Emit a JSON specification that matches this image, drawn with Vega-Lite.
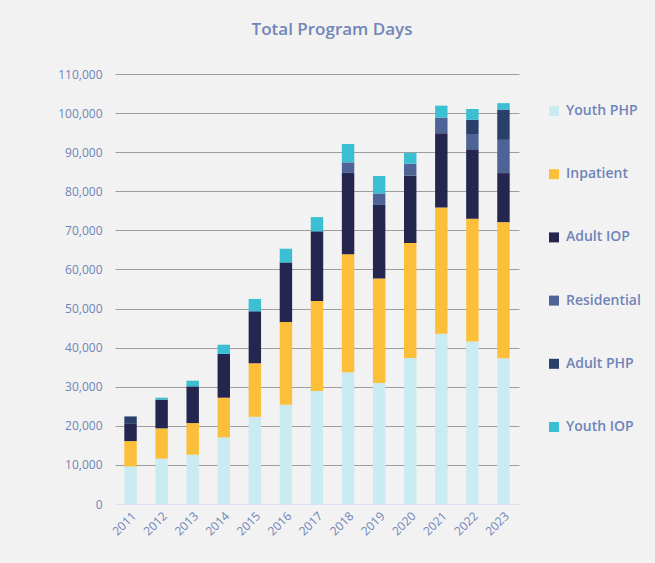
{
  "$schema": "https://vega.github.io/schema/vega-lite/v6.json",
  "autosize": "none",
  "width": 404,
  "height": 430,
  "padding": {"left": 115, "top": 74, "right": 136, "bottom": 59},
  "background": "#f2f2f2",
  "config": {
    "view": {"stroke": null},
    "font": "Open Sans"
  },
  "title": {
    "text": "Total Program Days",
    "fontSize": 17,
    "fontWeight": 600,
    "font": "Open Sans",
    "color": "#7085b8",
    "anchor": "middle",
    "dx": 15,
    "offset": 29
  },
  "data": {
    "values": [
      {"year": "2011", "program": "Youth PHP", "days": 9600, "k": 1},
      {"year": "2011", "program": "Inpatient", "days": 6500, "k": 2},
      {"year": "2011", "program": "Adult IOP", "days": 4400, "k": 3},
      {"year": "2011", "program": "Adult PHP", "days": 1900, "k": 5},
      {"year": "2012", "program": "Youth PHP", "days": 11600, "k": 1},
      {"year": "2012", "program": "Inpatient", "days": 7750, "k": 2},
      {"year": "2012", "program": "Adult IOP", "days": 7350, "k": 3},
      {"year": "2012", "program": "Youth IOP", "days": 500, "k": 6},
      {"year": "2013", "program": "Youth PHP", "days": 12600, "k": 1},
      {"year": "2013", "program": "Inpatient", "days": 8100, "k": 2},
      {"year": "2013", "program": "Adult IOP", "days": 9400, "k": 3},
      {"year": "2013", "program": "Youth IOP", "days": 1450, "k": 6},
      {"year": "2014", "program": "Youth PHP", "days": 17050, "k": 1},
      {"year": "2014", "program": "Inpatient", "days": 10150, "k": 2},
      {"year": "2014", "program": "Adult IOP", "days": 11200, "k": 3},
      {"year": "2014", "program": "Youth IOP", "days": 2350, "k": 6},
      {"year": "2015", "program": "Youth PHP", "days": 22300, "k": 1},
      {"year": "2015", "program": "Inpatient", "days": 13700, "k": 2},
      {"year": "2015", "program": "Adult IOP", "days": 13300, "k": 3},
      {"year": "2015", "program": "Youth IOP", "days": 3150, "k": 6},
      {"year": "2016", "program": "Youth PHP", "days": 25400, "k": 1},
      {"year": "2016", "program": "Inpatient", "days": 21150, "k": 2},
      {"year": "2016", "program": "Adult IOP", "days": 15250, "k": 3},
      {"year": "2016", "program": "Youth IOP", "days": 3500, "k": 6},
      {"year": "2017", "program": "Youth PHP", "days": 28900, "k": 1},
      {"year": "2017", "program": "Inpatient", "days": 23000, "k": 2},
      {"year": "2017", "program": "Adult IOP", "days": 17850, "k": 3},
      {"year": "2017", "program": "Youth IOP", "days": 3650, "k": 6},
      {"year": "2018", "program": "Youth PHP", "days": 33700, "k": 1},
      {"year": "2018", "program": "Inpatient", "days": 30200, "k": 2},
      {"year": "2018", "program": "Adult IOP", "days": 20800, "k": 3},
      {"year": "2018", "program": "Residential", "days": 2700, "k": 4},
      {"year": "2018", "program": "Youth IOP", "days": 4700, "k": 6},
      {"year": "2019", "program": "Youth PHP", "days": 30950, "k": 1},
      {"year": "2019", "program": "Inpatient", "days": 26750, "k": 2},
      {"year": "2019", "program": "Adult IOP", "days": 18800, "k": 3},
      {"year": "2019", "program": "Residential", "days": 2950, "k": 4},
      {"year": "2019", "program": "Youth IOP", "days": 4450, "k": 6},
      {"year": "2020", "program": "Youth PHP", "days": 37350, "k": 1},
      {"year": "2020", "program": "Inpatient", "days": 29400, "k": 2},
      {"year": "2020", "program": "Adult IOP", "days": 17300, "k": 3},
      {"year": "2020", "program": "Residential", "days": 3000, "k": 4},
      {"year": "2020", "program": "Youth IOP", "days": 2750, "k": 6},
      {"year": "2021", "program": "Youth PHP", "days": 43550, "k": 1},
      {"year": "2021", "program": "Inpatient", "days": 32300, "k": 2},
      {"year": "2021", "program": "Adult IOP", "days": 19000, "k": 3},
      {"year": "2021", "program": "Residential", "days": 4000, "k": 4},
      {"year": "2021", "program": "Youth IOP", "days": 3050, "k": 6},
      {"year": "2022", "program": "Youth PHP", "days": 41550, "k": 1},
      {"year": "2022", "program": "Inpatient", "days": 31450, "k": 2},
      {"year": "2022", "program": "Adult IOP", "days": 17750, "k": 3},
      {"year": "2022", "program": "Residential", "days": 3900, "k": 4},
      {"year": "2022", "program": "Adult PHP", "days": 3650, "k": 5},
      {"year": "2022", "program": "Youth IOP", "days": 2750, "k": 6},
      {"year": "2023", "program": "Youth PHP", "days": 37300, "k": 1},
      {"year": "2023", "program": "Inpatient", "days": 34800, "k": 2},
      {"year": "2023", "program": "Adult IOP", "days": 12550, "k": 3},
      {"year": "2023", "program": "Residential", "days": 8500, "k": 4},
      {"year": "2023", "program": "Adult PHP", "days": 7750, "k": 5},
      {"year": "2023", "program": "Youth IOP", "days": 1650, "k": 6}
    ]
  },
  "mark": {"type": "bar"},
  "encoding": {
    "x": {
      "field": "year",
      "type": "ordinal",
      "scale": {"paddingInner": 0.6, "paddingOuter": 0.3},
      "axis": {
        "title": null,
        "labelAngle": -45,
        "labelFontSize": 12,
        "labelColor": "#6f84b8",
        "labelFont": "Open Sans",
        "ticks": false,
        "domain": true,
        "domainColor": "#dbe2f0",
        "domainWidth": 1,
        "labelPadding": 6
      }
    },
    "y": {
      "field": "days",
      "type": "quantitative",
      "aggregate": "sum",
      "stack": "zero",
      "scale": {"domain": [0, 110000], "nice": false},
      "axis": {
        "title": null,
        "values": [0, 10000, 20000, 30000, 40000, 50000, 60000, 70000, 80000, 90000, 100000, 110000],
        "format": ",d",
        "labelFontSize": 12,
        "labelColor": "#6f84b8",
        "labelFont": "Open Sans",
        "ticks": false,
        "domain": false,
        "labelPadding": 13,
        "grid": true,
        "gridColor": {"condition": {"test": "datum.value === 0", "value": "#dbe2f0"}, "value": "#9e9e9e"},
        "gridWidth": 1
      }
    },
    "color": {
      "field": "program",
      "type": "nominal",
      "scale": {
        "domain": ["Youth PHP", "Inpatient", "Adult IOP", "Residential", "Adult PHP", "Youth IOP"],
        "range": ["#c9ebf1", "#fbbf3a", "#24264f", "#4e6496", "#2b3f6b", "#3bbfd3"]
      },
      "legend": {
        "title": null,
        "orient": "none",
        "legendX": 432,
        "legendY": 30,
        "symbolType": "square",
        "symbolSize": 100,
        "symbolStrokeWidth": 0,
        "labelFontSize": 14,
        "labelColor": "#6f84b8",
        "labelFont": "Open Sans",
        "labelFontWeight": 600,
        "rowPadding": 49.2,
        "labelOffset": 5
      }
    },
    "order": {"field": "k", "type": "quantitative"}
  }
}
